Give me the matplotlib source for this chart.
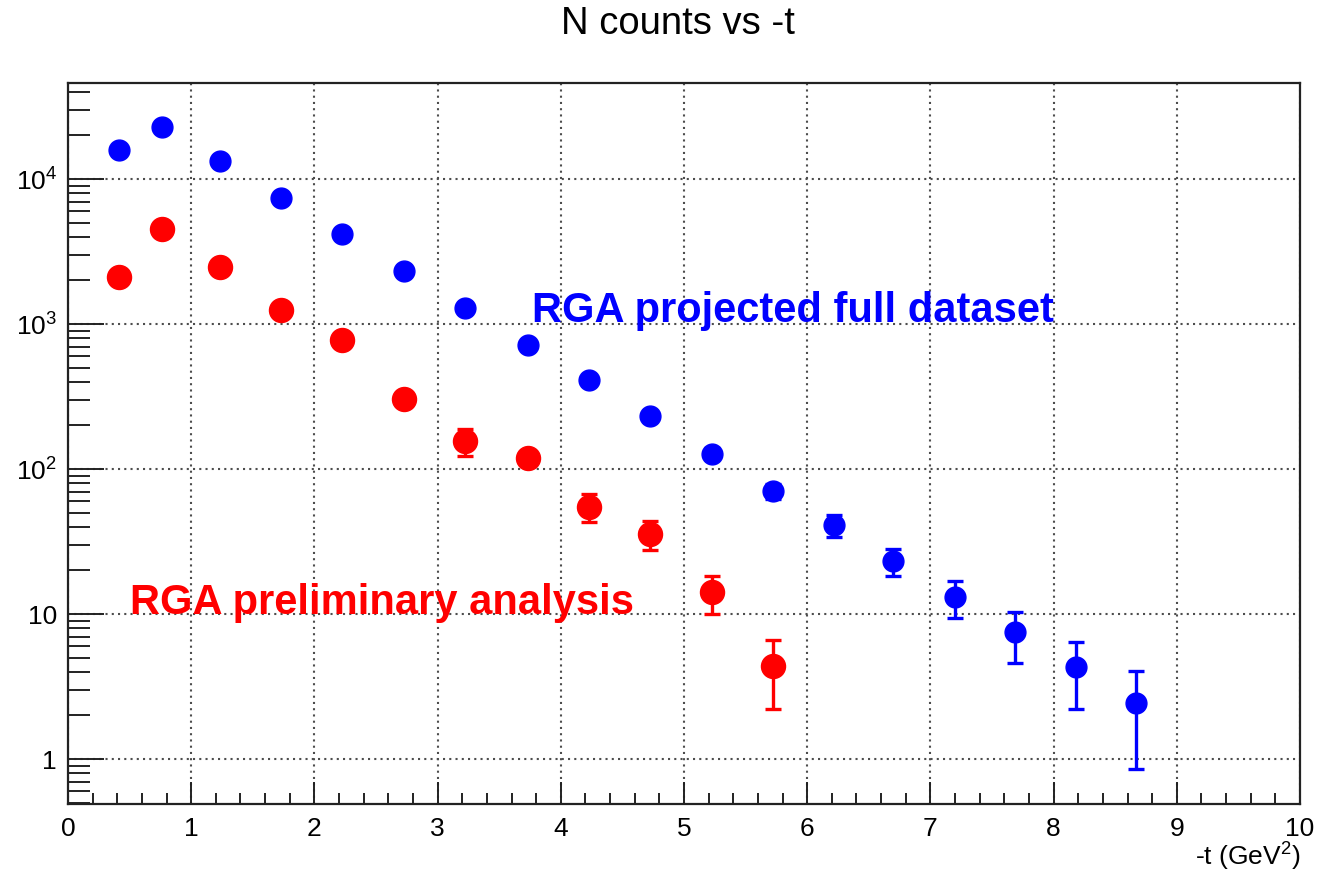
import numpy as np
import matplotlib
matplotlib.use("Agg")
import matplotlib.pyplot as plt
from matplotlib.ticker import LogLocator, MultipleLocator, FixedLocator, FixedFormatter, NullFormatter

plt.rcParams['font.family'] = ['Liberation Sans', 'DejaVu Sans']
plt.rcParams['mathtext.fontset'] = 'custom'
plt.rcParams['mathtext.rm'] = 'Liberation Sans'
plt.rcParams['mathtext.default'] = 'regular'

# -t bin centres (GeV^2)
t_vals = [0.41, 0.76, 1.23, 1.73, 2.22, 2.73, 3.22, 3.73, 4.23,
          4.72, 5.23, 5.72, 6.22, 6.70, 7.20, 7.69, 8.18, 8.67]

# projected counts, full RGA dataset
n_full = [15800, 22800, 13300, 7400, 4180, 2320, 1290, 717, 411,
          232, 128, 70.6, 41, 23.2, 13.1, 7.5, 4.3, 2.45]
err_full = [126, 151, 115, 86, 65, 48, 36, 27, 20,
            15, 11, 8.4, 7.0, 5.0, 3.7, 2.9, 2.1, 1.6]

# preliminary analysis counts
n_prelim = [2110, 4520, 2470, 1250, 776, 304, 156, 119, 55, 35.7, 14.2, 4.4]
err_prelim = [60, 90, 65, 45, 35, 22, 33, 14, 12, 8, 4.2, 2.2]

ytick_vals = [1, 10, 100, 1000, 10000]
ytick_labels = ['1', '10', r'$10^{2}$', r'$10^{3}$', r'$10^{4}$']

fig = plt.figure(figsize=(13.35, 8.75), dpi=100)
ax = fig.add_axes([68/1335, 71/875, 1232/1335, 721/875])

ax.errorbar(t_vals, n_full, yerr=err_full, fmt='o', color='#0000ff',
            ms=15, elinewidth=2.4, capsize=5.5, capthick=2.4, zorder=3)
ax.errorbar(t_vals[:len(n_prelim)], n_prelim, yerr=err_prelim, fmt='o',
            color='#ff0000', ms=17.3, elinewidth=2.4, capsize=5.5,
            capthick=2.4, zorder=3)

ax.set_yscale('log')
ax.set_xlim(0, 10)
ax.set_ylim(0.49, 4.6e4)

ax.xaxis.set_major_locator(MultipleLocator(1))
ax.xaxis.set_minor_locator(MultipleLocator(0.2))
ax.yaxis.set_major_locator(FixedLocator(ytick_vals))
ax.yaxis.set_major_formatter(FixedFormatter(ytick_labels))
ax.yaxis.set_minor_locator(LogLocator(base=10, subs=np.arange(2, 10)))
ax.yaxis.set_minor_formatter(NullFormatter())

ax.tick_params(axis='both', which='both', direction='in', top=False,
               right=False, width=1.4, color='#222222', labelsize=19)
ax.tick_params(axis='y', which='major', length=26, pad=8)
ax.tick_params(axis='y', which='minor', length=15.5)
ax.tick_params(axis='x', which='major', length=16, pad=9)
ax.tick_params(axis='x', which='minor', length=7.7)

for sp in ax.spines.values():
    sp.set_linewidth(1.6)
    sp.set_color('#222222')

ax.grid(True, which='major', color='0.3', linestyle=(0, (1, 2)), linewidth=1.5)
ax.set_axisbelow(True)

ax.text(3.77, 1030, 'RGA projected full dataset', color='#0000ff',
        fontsize=30, fontweight='bold', ha='left', va='baseline')
ax.text(0.50, 10.0, 'RGA preliminary analysis', color='#ff0000',
        fontsize=30, fontweight='bold', ha='left', va='baseline')

fig.text(678/1335, 1 - 24/875, 'N counts vs -t', fontsize=27.5,
         ha='center', va='center')
fig.text(1300/1335, 1 - 857/875, r'-t (GeV$^{2}$)', fontsize=19,
         ha='right', va='center')

fig.savefig('out.png', dpi=100)
